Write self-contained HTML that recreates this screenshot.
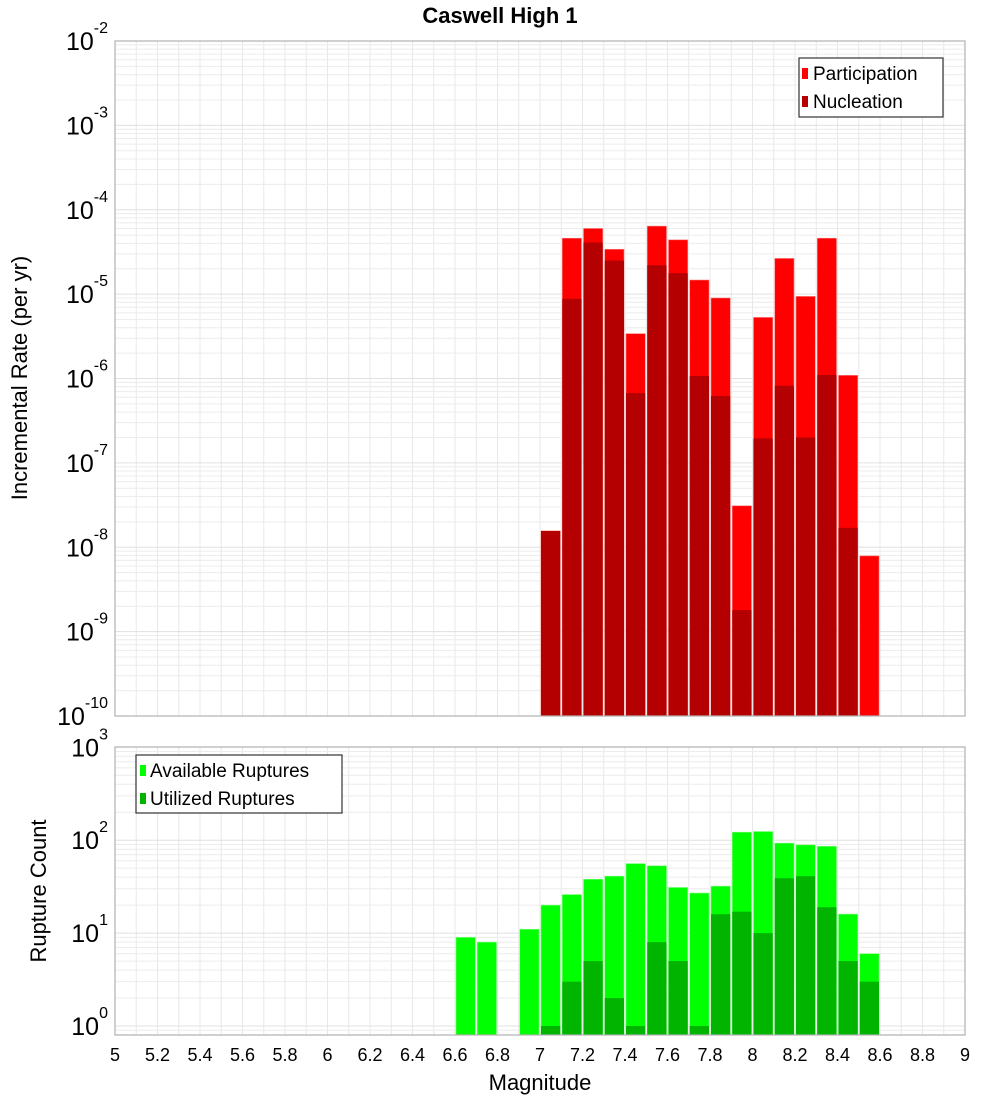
<!DOCTYPE html>
<html><head><meta charset="utf-8">
<style>
body{margin:0;background:#fff;}
svg{display:block;font-family:"Liberation Sans","DejaVu Sans",sans-serif;}
</style></head>
<body>
<svg id="chart" width="1000" height="1100" xmlns="http://www.w3.org/2000/svg">
<text x="500" y="23" text-anchor="middle" font-size="22" font-weight="bold">Caswell High 1</text>
<g id="top"></g>
<g id="bot"></g>
</svg>
<script>
const mags = [6.6,6.7,6.8,6.9,7.0,7.1,7.2,7.3,7.4,7.5,7.6,7.7,7.8,7.9,8.0,8.1,8.2,8.3,8.4,8.5];
const participation = [0,0,0,0,1.56e-8,4.6e-5,6.0e-5,3.4e-5,3.4e-6,6.4e-5,4.4e-5,1.47e-5,9.0e-6,3.1e-8,5.3e-6,2.65e-5,9.4e-6,4.6e-5,1.09e-6,7.9e-9];
const nucleation = [0,0,0,0,1.56e-8,8.8e-6,4.1e-5,2.5e-5,6.7e-7,2.2e-5,1.77e-5,1.07e-6,6.2e-7,1.8e-9,1.95e-7,8.2e-7,2.0e-7,1.1e-6,1.7e-8,0];
const available = [9,8,0,11,20,26,38,41,56,53,31,27,32,122,124,93,89,86,16,6];
const utilized = [0,0,0,0,1,3,5,2,1,8,5,1,16,17,10,39,41,19,5,3];
const xTicks = ["5","5.2","5.4","5.6","5.8","6","6.2","6.4","6.6","6.8","7","7.2","7.4","7.6","7.8","8","8.2","8.4","8.6","8.8","9"];

const NS="http://www.w3.org/2000/svg";
const L=115,R=965;
const x=m=>L+(m-5)*(R-L)/4;
function mk(p,tag,attrs){const e=document.createElementNS(NS,tag);for(const k in attrs)e.setAttribute(k,attrs[k]);p.appendChild(e);return e;}

function panel(g,top,bottom,dTop,dBot,yOf){
  // grid
  for(let i=0;i<=40;i++){const xx=L+i*(R-L)/40;
    const ln=mk(g,'line',{x1:xx,x2:xx,y1:top,y2:bottom,stroke:'#e8e8e8','stroke-width':1});
    
    }
  for(let d=dBot-1;d<dTop;d++){for(let k=1;k<10;k++){const v=k*Math.pow(10,d);const yy=yOf(v);
    if(yy<top||yy>bottom)continue;
    const ln=mk(g,'line',{x1:L,x2:R,y1:yy,y2:yy,stroke:k==1?'#e0e0e0':'#ececec','stroke-width':1});
    
    }}
  // y labels
  for(let d=dBot;d<=dTop;d++){const yy=yOf(Math.pow(10,d));
    const t=mk(g,'text',{x:108,y:yy+9,'text-anchor':'end','font-size':25});
    
    
    t.appendChild(document.createTextNode('10'));
    const s=mk(t,'tspan',{dy:-17,'font-size':16});s.textContent=String(d);}
}

// top panel
const T0=41,T1=716;
const yT=v=>T1-(Math.log10(v)+10)*(T1-T0)/8;
const gt=document.getElementById('top');
panel(gt,T0,T1,-2,-10,yT);
mags.forEach((m,i)=>{
  const bw=(R-L)/40;
  if(participation[i]>0){const yy=yT(participation[i]);
    const r=mk(gt,'rect',{x:x(m)+1,y:yy,width:bw-2,height:T1-yy,fill:'#ff0000',stroke:'#ff8080','stroke-width':0.6});
    
    }
  if(nucleation[i]>0){const yy=yT(nucleation[i]);
    const r=mk(gt,'rect',{x:x(m)+1,y:yy,width:bw-2,height:T1-yy,fill:'#b40000'});
    
    }
});
mk(gt,'rect',{x:L,y:T0,width:R-L,height:T1-T0,fill:'none',stroke:'#b0b0b0','stroke-width':1.2});

// bottom panel
const B0=747,B1=1035,BPD=92.9,BZ=1026;
const yB=v=>BZ-Math.log10(v)*BPD;
const gb=document.getElementById('bot');
panel(gb,B0,B1,3,0,yB);
mags.forEach((m,i)=>{
  const bw=(R-L)/40;
  if(available[i]>0){const yy=yB(available[i]);
    const r=mk(gb,'rect',{x:x(m)+1,y:yy,width:bw-2,height:B1-yy,fill:'#00ff00',stroke:'#80ff80','stroke-width':0.6});
    
    }
  if(utilized[i]>0){const yy=yB(utilized[i]);
    const r=mk(gb,'rect',{x:x(m)+1,y:yy,width:bw-2,height:B1-yy,fill:'#00b400'});
    
    }
});
mk(gb,'rect',{x:L,y:B0,width:R-L,height:B1-B0,fill:'none',stroke:'#b0b0b0','stroke-width':1.2});

// x ticks
xTicks.forEach((s,i)=>{const t=mk(gb,'text',{x:L+i*(R-L)/20,y:1061,'text-anchor':'middle','font-size':18});
  
  
  t.textContent=s;});
</script>
<svg style="position:absolute;left:0;top:0" width="1000" height="1100" xmlns="http://www.w3.org/2000/svg">
<g font-family="Liberation Sans, DejaVu Sans, sans-serif">
<text x="540" y="1090" text-anchor="middle" font-size="22">Magnitude</text>
<text transform="translate(27,378) rotate(-90)" text-anchor="middle" font-size="22">Incremental Rate (per yr)</text>
<text transform="translate(46,891) rotate(-90)" text-anchor="middle" font-size="22">Rupture Count</text>
<g>
<rect x="799" y="58" width="144" height="59" fill="#fff" stroke="#333" stroke-width="1.2"/>
<rect x="802" y="68" width="6" height="11" fill="#ff0000"/>
<text x="813" y="80" font-size="19">Participation</text>
<rect x="802" y="96" width="6" height="11" fill="#b40000"/>
<text x="813" y="108" font-size="19">Nucleation</text>
</g>
<g>
<rect x="136" y="755" width="206" height="58" fill="#fff" stroke="#333" stroke-width="1.2"/>
<rect x="140" y="765" width="6" height="11" fill="#00ff00"/>
<text x="150" y="777" font-size="19">Available Ruptures</text>
<rect x="140" y="793" width="6" height="11" fill="#00b400"/>
<text x="150" y="805" font-size="19">Utilized Ruptures</text>
</g>
</g>
</svg>
</body></html>
